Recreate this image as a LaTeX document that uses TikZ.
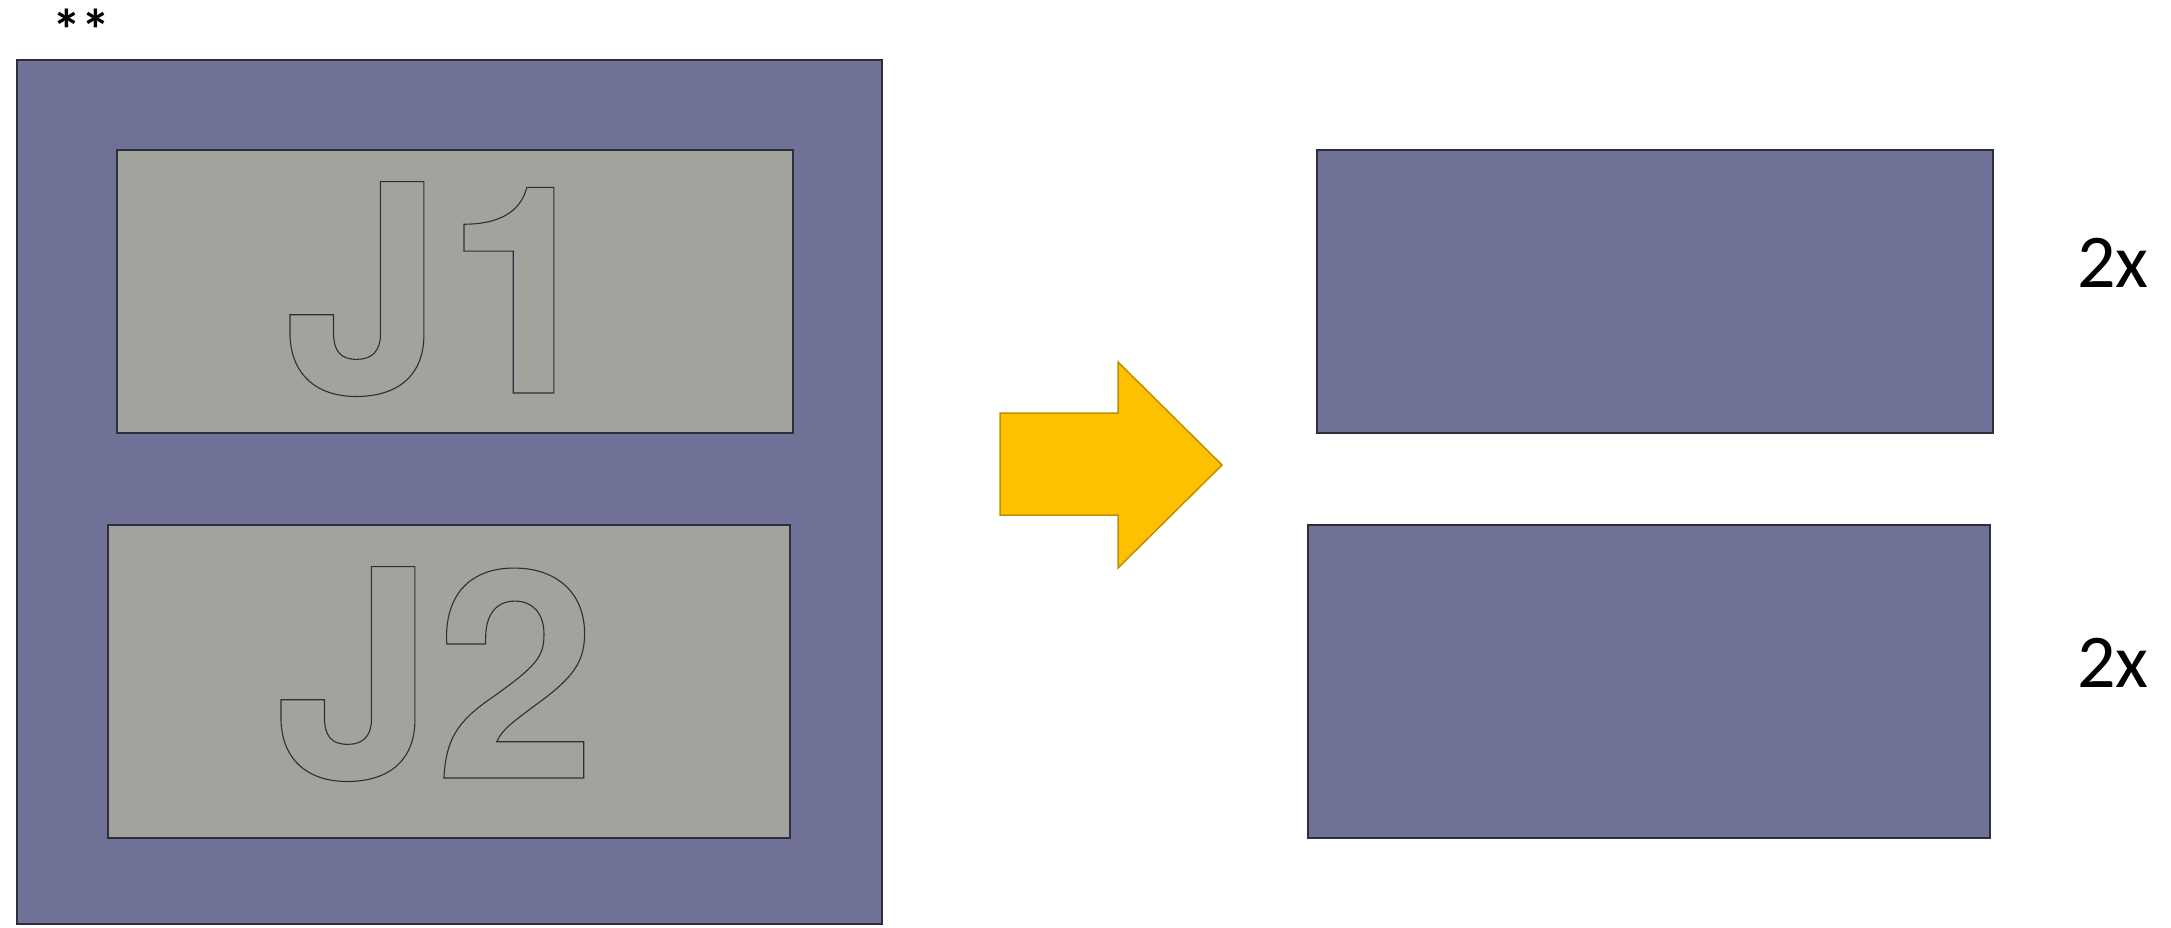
\documentclass[tikz,border=0pt]{standalone}
\usepackage{fontspec}
\setmainfont{Carlito}
\newfontfamily\jfont{TeX Gyre Heros}
\definecolor{slate}{RGB}{111,114,150}
\definecolor{plate}{RGB}{163,163,158}
\definecolor{edge}{RGB}{45,45,60}
\definecolor{gold}{RGB}{255,192,0}
\definecolor{golddark}{RGB}{191,144,0}
\newcommand\outlinetxt[1]{\special{pdf:code 1 Tr 1.1 w}#1\special{pdf:code 0 Tr}}
\begin{document}
\begin{tikzpicture}[x=1pt,y=-1pt,
  slab/.style={draw=edge,fill=slate,line width=1.3pt,inner sep=0pt,outer sep=0pt,anchor=north west},
  inlay/.style={draw=edge,fill=plate,line width=1.3pt,inner sep=0pt,outer sep=0pt,anchor=north west},
  jtext/.style={inner sep=0pt,outer sep=0pt,anchor=base west,text=edge,font=\fontsize{290}{290}\jfont\bfseries\selectfont},
  countlabel/.style={inner sep=0pt,outer sep=0pt,anchor=base west,font=\fontsize{76}{76}\selectfont},
  bigarrow/.style={fill=gold,draw=golddark,line width=1.5pt,line join=miter}]
\useasboundingbox (0,0) rectangle (2171,927);
\node[inner sep=0pt,anchor=base west,font=\fontsize{58}{58}\bfseries\selectfont] (stars) at (52,50) {**};
\node[slab,minimum width=865pt,minimum height=864pt] (outer) at (17,60) {};
\node[inlay,minimum width=676pt,minimum height=283pt] (p1) at (117,150) {};
\node[inlay,minimum width=682pt,minimum height=313pt] (p2) at (108,525) {};
\node[jtext] (t1) at (283,393) {\outlinetxt{J1}};
\node[jtext] (t2) at (274,778) {\outlinetxt{J2}};
\node[slab,minimum width=676pt,minimum height=283pt] (r1) at (1317,150) {};
\node[slab,minimum width=682pt,minimum height=313pt] (r2) at (1308,525) {};
\node[countlabel] (n1) at (2077,287) {2x};
\node[countlabel] (n2) at (2077,687) {2x};
\draw[bigarrow] (1000,413) -- (1118,413) -- (1118,362) -- (1222,465) -- (1118,568) -- (1118,515) -- (1000,515) -- cycle;
\end{tikzpicture}
\end{document}
